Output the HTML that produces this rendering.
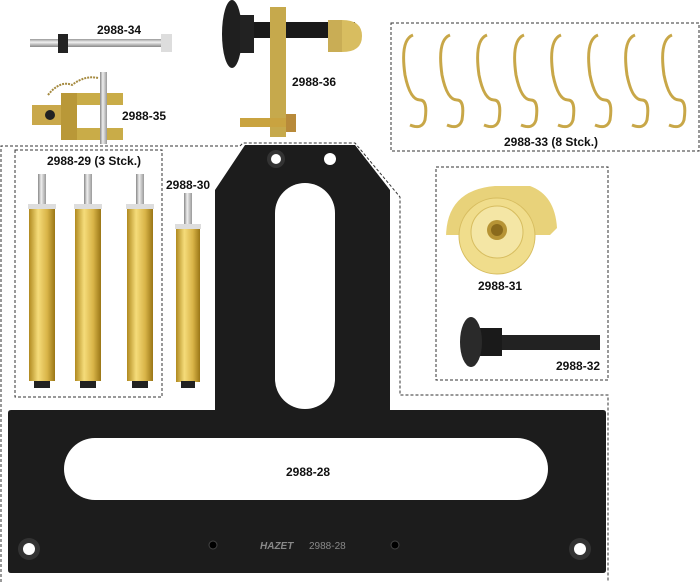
<!DOCTYPE html>
<html><head><meta charset="utf-8"><style>
html,body{margin:0;padding:0;background:#fff;}
svg{display:block}
text{font-family:"Liberation Sans",sans-serif;font-weight:bold;font-size:12px;fill:#111}
</style></head><body>
<svg width="700" height="582" viewBox="0 0 700 582" xmlns="http://www.w3.org/2000/svg">
<defs>
<linearGradient id="gold" x1="0" x2="1"><stop offset="0" stop-color="#b08a20"/><stop offset="0.35" stop-color="#f5dc7a"/><stop offset="0.7" stop-color="#d9b448"/><stop offset="1" stop-color="#9a7616"/></linearGradient>
<linearGradient id="steel" x1="0" x2="1"><stop offset="0" stop-color="#888"/><stop offset="0.4" stop-color="#eee"/><stop offset="1" stop-color="#999"/></linearGradient>
<linearGradient id="steelv" x1="0" y1="0" x2="0" y2="1"><stop offset="0" stop-color="#999"/><stop offset="0.4" stop-color="#f0f0f0"/><stop offset="1" stop-color="#888"/></linearGradient>
</defs>
<g fill="none" stroke="#333" stroke-width="1" stroke-dasharray="3,2">
<path d="M1,582 V146 H240 L243,143 H355 L400,197 V395 H608 V582"/>
<rect x="15" y="150" width="147" height="247"/>
<rect x="436" y="167" width="172" height="213"/>
<rect x="391" y="23" width="308" height="128"/>
</g>
<!-- plate -->
<path fill="#1c1c1c" d="M245,145 H355 L390,190 V410 H603 Q606,410 606,413 V570 Q606,573 603,573 H11 Q8,573 8,570 V413 Q8,410 11,410 H215 V190 Z"/>
<rect x="275" y="183" width="60" height="226" rx="30" fill="#fff"/>
<rect x="64" y="438" width="484" height="62" rx="31" fill="#fff"/>
<circle cx="276" cy="159" r="9" fill="#333"/><circle cx="276" cy="159" r="5" fill="#fff"/>
<circle cx="330" cy="159" r="6" fill="#fff"/>
<circle cx="29" cy="549" r="11" fill="#333"/><circle cx="29" cy="549" r="6" fill="#fff"/>
<circle cx="580" cy="549" r="11" fill="#333"/><circle cx="580" cy="549" r="6" fill="#fff"/>
<circle cx="213" cy="545" r="4" fill="#000" stroke="#444"/>
<circle cx="395" cy="545" r="4" fill="#000" stroke="#444"/>
<text x="260" y="549" style="font-size:10px;fill:#888;font-style:italic">HAZET</text>
<text x="309" y="549" style="font-size:10px;fill:#888;font-weight:normal">2988-28</text>
<text x="286" y="476">2988-28</text>
<!-- pins -->
<g>
<rect x="38" y="174" width="8" height="32" fill="url(#steel)"/><rect x="28" y="204" width="28" height="5" fill="#ddd"/><rect x="29" y="209" width="26" height="172" fill="url(#gold)"/><rect x="34" y="381" width="16" height="7" fill="#222"/>
<rect x="84" y="174" width="8" height="32" fill="url(#steel)"/><rect x="74" y="204" width="28" height="5" fill="#ddd"/><rect x="75" y="209" width="26" height="172" fill="url(#gold)"/><rect x="80" y="381" width="16" height="7" fill="#222"/>
<rect x="136" y="174" width="8" height="32" fill="url(#steel)"/><rect x="126" y="204" width="28" height="5" fill="#ddd"/><rect x="127" y="209" width="26" height="172" fill="url(#gold)"/><rect x="132" y="381" width="16" height="7" fill="#222"/>
<rect x="184" y="193" width="8" height="32" fill="url(#steel)"/><rect x="175" y="224" width="26" height="5" fill="#ddd"/><rect x="176" y="229" width="24" height="153" fill="url(#gold)"/><rect x="181" y="381" width="14" height="7" fill="#222"/>
</g>
<text x="47" y="165">2988-29 (3 Stck.)</text>
<text x="166" y="189">2988-30</text>
<!-- 2988-31 -->
<path d="M446,240 Q445,190 495,186 H530 Q555,195 557,228 L550,235 H446 Z" fill="#e8d27a"/>
<circle cx="497" cy="236" r="38" fill="#f0dd8c" stroke="#d7bd60"/>
<circle cx="497" cy="232" r="26" fill="#f4e6a5" stroke="#d7bd60"/>
<circle cx="497" cy="230" r="10" fill="#b79435"/><circle cx="497" cy="230" r="6" fill="#8a6a1c"/>
<text x="478" y="290">2988-31</text>
<!-- 2988-32 -->
<rect x="496" y="335" width="104" height="15" fill="#222"/>
<rect x="480" y="328" width="22" height="28" fill="#1a1a1a"/>
<ellipse cx="471" cy="342" rx="11" ry="25" fill="#2a2a2a"/>
<text x="556" y="370">2988-32</text>
<!-- 2988-34 -->
<rect x="30" y="39" width="140" height="8" fill="url(#steelv)"/>
<rect x="58" y="34" width="10" height="19" fill="#222"/>
<rect x="161" y="34" width="11" height="18" fill="#ddd"/>
<text x="97" y="34">2988-34</text>
<!-- 2988-35 -->
<rect x="32" y="105" width="32" height="20" fill="#c9a84a"/>
<circle cx="50" cy="115" r="5" fill="#222"/>
<rect x="61" y="93" width="62" height="12" fill="#c9ac48"/>
<rect x="61" y="128" width="62" height="12" fill="#c9ac48"/>
<rect x="61" y="93" width="16" height="47" fill="#b99838"/>
<rect x="100" y="72" width="7" height="72" fill="url(#steel)"/>
<path d="M48,95 Q60,80 72,85 Q85,75 98,78" fill="none" stroke="#a58a40" stroke-width="2" stroke-dasharray="2,1"/>
<text x="122" y="120">2988-35</text>
<!-- 2988-36 -->
<rect x="245" y="22" width="110" height="16" fill="#1a1a1a"/>
<ellipse cx="232" cy="34" rx="10" ry="34" fill="#1f1f1f"/>
<rect x="240" y="15" width="14" height="38" fill="#222"/>
<rect x="270" y="7" width="16" height="130" fill="#c6a94c"/>
<rect x="328" y="20" width="14" height="32" fill="#c9ad55"/>
<path d="M342,20 Q362,20 362,36 Q362,52 342,52 Z" fill="#d8bd60"/>
<rect x="240" y="118" width="50" height="9" fill="#c9a340"/>
<rect x="286" y="114" width="10" height="18" fill="#b88a3a"/>
<text x="292" y="86">2988-36</text>
<!-- springs -->
<g fill="none" stroke="#c8a748" stroke-width="3">
<path d="M413,35 Q400,40 405,75 Q410,100 420,100 Q428,100 425,120 Q422,130 410,125"/>
<path d="M450,35 Q437,40 442,75 Q447,100 457,100 Q465,100 462,120 Q459,130 447,125"/>
<path d="M487,35 Q474,40 479,75 Q484,100 494,100 Q502,100 499,120 Q496,130 484,125"/>
<path d="M524,35 Q511,40 516,75 Q521,100 531,100 Q539,100 536,120 Q533,130 521,125"/>
<path d="M561,35 Q548,40 553,75 Q558,100 568,100 Q576,100 573,120 Q570,130 558,125"/>
<path d="M598,35 Q585,40 590,75 Q595,100 605,100 Q613,100 610,120 Q607,130 595,125"/>
<path d="M635,35 Q622,40 627,75 Q632,100 642,100 Q650,100 647,120 Q644,130 632,125"/>
<path d="M672,35 Q659,40 664,75 Q669,100 679,100 Q687,100 684,120 Q681,130 669,125"/>
</g>
<text x="504" y="146">2988-33 (8 Stck.)</text>
</svg>
</body></html>
